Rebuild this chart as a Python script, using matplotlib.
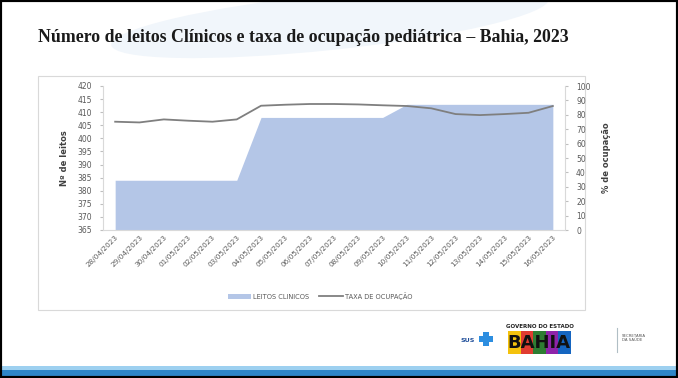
import matplotlib
matplotlib.use("Agg")
import matplotlib.pyplot as plt
from matplotlib.patches import Rectangle, Patch, Ellipse
from matplotlib.lines import Line2D

dates = ["28/04/2023", "29/04/2023", "30/04/2023", "01/05/2023", "02/05/2023",
         "03/05/2023", "04/05/2023", "05/05/2023", "06/05/2023", "07/05/2023",
         "08/05/2023", "09/05/2023", "10/05/2023", "11/05/2023", "12/05/2023",
         "13/05/2023", "14/05/2023", "15/05/2023", "16/05/2023"]
leitos = [384, 384, 384, 384, 384, 384, 408, 408, 408, 408, 408, 408,
          413, 413, 413, 413, 413, 413, 413]
ocupacao = [75.2, 74.7, 76.8, 75.9, 75.2, 76.8, 86.3, 87.0, 87.5, 87.5,
            87.2, 86.6, 86.1, 84.5, 80.5, 79.8, 80.5, 81.4, 86.1]
left_ticks = list(range(365, 421, 5))
right_ticks = list(range(0, 101, 10))

W, H = 678, 378
fig = plt.figure(figsize=(W / 100, H / 100), dpi=100)
fig.patch.set_facecolor("white")

def px(x, y, w, h):
    return [x / W, 1 - (y + h) / H, w / W, h / H]

# slide frame
bg = fig.add_axes([0, 0, 1, 1])
bg.set_xlim(0, W); bg.set_ylim(H, 0); bg.axis("off")
bg.add_patch(Ellipse((330, 22), 440, 56, angle=-6, facecolor="#f1f6fb", edgecolor="none", zorder=0))
bg.add_patch(Rectangle((2, 366), W - 4, 4, facecolor="#9dd0f0", edgecolor="none"))
bg.add_patch(Rectangle((2, 370), W - 4, 6, facecolor="#2e86c8", edgecolor="none"))
# chart border
bg.add_patch(Rectangle((38, 76), 547, 234, facecolor="white", edgecolor="#d9d9d9", lw=0.8))
bg.add_patch(Rectangle((0, 0), W, H, facecolor="none", edgecolor="black", lw=3, zorder=10))

# logos (approximate)
bg.text(475, 340, "SUS", fontsize=4.5, color="#1f4e9a", ha="right", va="center", fontweight="bold")
bg.add_patch(Rectangle((479, 336), 14, 6, facecolor="#2d8ee0", edgecolor="none"))
bg.add_patch(Rectangle((483, 332), 6, 14, facecolor="#2d8ee0", edgecolor="none"))
bg.text(540, 326, "GOVERNO DO ESTADO", fontsize=4, color="#222", ha="center", va="center", fontweight="bold")
cols = ["#f4c20d", "#e03c31", "#2e7d32", "#8e24aa", "#1565c0"]
for i, c in enumerate(cols):
    bg.add_patch(Rectangle((508 + i * 12.5, 331), 12.5, 23, facecolor=c, edgecolor="none"))
bg.text(539, 343, "BAHIA", fontsize=13, color="#111", ha="center", va="center", fontweight="heavy")
bg.plot([617, 617], [328, 352], color="#b0bec5", lw=0.8)
bg.text(622, 338, "SECRETARIA\nDA SAÚDE", fontsize=2.8, color="#555", ha="left", va="center", linespacing=1.3)

# title
fig.text(38 / W, 1 - 37 / H, "Número de leitos Clínicos e taxa de ocupação pediátrica – Bahia, 2023",
         fontsize=12.8, fontweight="bold", family="Liberation Serif", color="#1a1a1a",
         ha="left", va="center")

ax = fig.add_axes(px(103, 86, 462, 144))
x = list(range(len(dates)))
ax.fill_between(x, leitos, 365, color="#b4c6e7", lw=0, zorder=1)
ax.set_xlim(-0.5, len(dates) - 0.5)
ax.set_ylim(365, 420)
ax.set_yticks(left_ticks)
ax.set_xticks(x)
ax.set_xticklabels(dates, rotation=45, ha="right", rotation_mode="anchor", fontsize=5.2, color="#595959")
ax.tick_params(axis="y", labelsize=5.5, labelcolor="#595959", length=2, color="#bfbfbf", pad=6)
ax.tick_params(axis="x", length=0, pad=3)
for s in ["top", "right"]:
    ax.spines[s].set_visible(False)
ax.spines["left"].set_color("#d9d9d9")
ax.spines["bottom"].set_color("#d9d9d9")
ax.set_ylabel("Nº de leitos", fontsize=6, fontweight="bold", color="#404040", labelpad=6)

ax2 = ax.twinx()
ax2.plot(x, ocupacao, color="#7f7f7f", lw=1.3, zorder=3)
ax2.set_ylim(0, 100)
ax2.set_yticks(right_ticks)
ax2.tick_params(axis="y", labelsize=5.5, labelcolor="#595959", length=2, color="#bfbfbf", pad=6)
for s in ["top", "left", "bottom"]:
    ax2.spines[s].set_visible(False)
ax2.spines["right"].set_color("#d9d9d9")
ax2.set_ylabel("% de ocupação", fontsize=6, fontweight="bold", color="#404040", rotation=90, labelpad=8)

handles = [Patch(facecolor="#b4c6e7", edgecolor="none"),
           Line2D([0], [0], color="#7f7f7f", lw=1.3)]
fig.legend(handles, ["LEITOS CLINICOS", "TAXA DE OCUPAÇÃO"], loc="center",
           bbox_to_anchor=(320 / W, 1 - 296 / H), ncol=2, frameon=False,
           fontsize=4.8, labelcolor="#595959", handlelength=3.5, handleheight=0.8,
           columnspacing=1.5, handletextpad=0.3)

fig.savefig("out.png", dpi=100)
